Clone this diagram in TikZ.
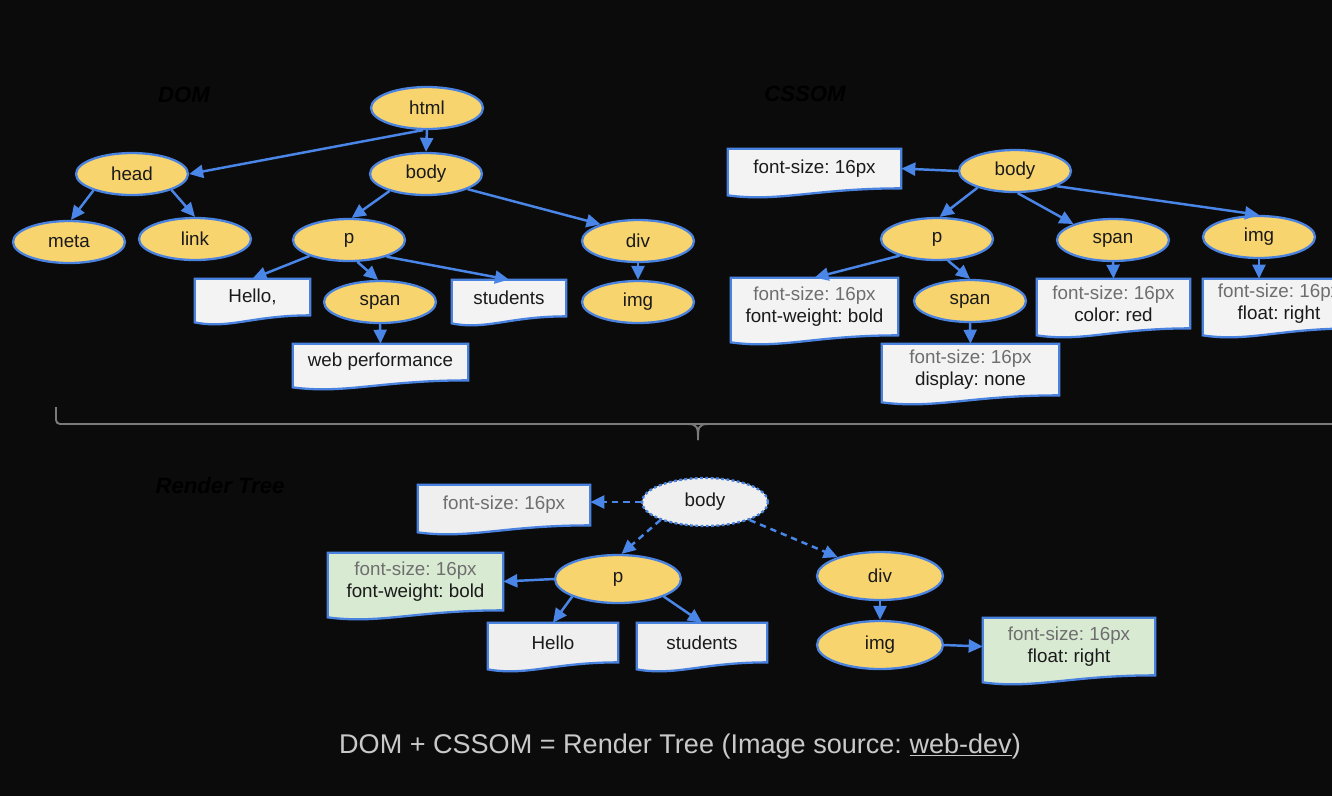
\documentclass[tikz,border=0pt]{standalone}
\usepackage{fontspec}
\setmainfont{Liberation Sans}
\usepackage{tikz}
\usetikzlibrary{shapes.geometric,arrows.meta,calc}

\definecolor{bgblack}{HTML}{0B0B0B}
\definecolor{elemfill}{HTML}{F8D46E}
\definecolor{nodeblue}{HTML}{4A82E0}
\definecolor{lineblue}{HTML}{4A86E8}
\definecolor{docfill}{HTML}{F3F3F3}
\definecolor{rdocfill}{HTML}{EFEFEF}
\definecolor{greenfill}{HTML}{D9EAD3}
\definecolor{greytext}{HTML}{6E6E6E}
\definecolor{textdark}{HTML}{1A1A1A}
\definecolor{bracketgrey}{HTML}{7A7A7A}
\definecolor{captext}{HTML}{C9C9C9}

\pgfdeclarelayer{bg}
\pgfdeclarelayer{docs}
\pgfsetlayers{bg,docs,main}

\frenchspacing
\newcommand{\nodefont}{\fontsize{10.7}{12.6}\selectfont}
\newcommand{\titlefont}{\fontsize{12.6}{14}\selectfont\bfseries\itshape}
\newcommand{\capfont}{\fontsize{15.4}{18}\selectfont}
\newcommand{\faint}[1]{{\color{greytext}#1}}

\tikzset{
	elem/.style={ellipse, draw=nodeblue, line width=1.3pt, fill=elemfill,
		minimum width=2.24cm, minimum height=0.84cm, inner sep=0pt,
		text=textdark, font=\nodefont},
	relem/.style={elem, minimum width=2.52cm, minimum height=0.96cm},
	doc/.style 2 args={rectangle, inner sep=0pt, minimum width=#1,
		minimum height=#2, text=textdark, font=\nodefont, align=center},
	docline/.style={draw=nodeblue, line width=1.3pt},
	arr/.style={draw=lineblue, line width=1.4pt,
		-{Triangle[length=2.8mm,width=2.6mm]}},
	dasharr/.style={arr, dash pattern=on 3.6pt off 2.8pt},
	title/.style={font=\titlefont, text=black},
}

\begin{document}
\begin{tikzpicture}[x=0.02cm, y=-0.02cm]
				\useasboundingbox (0,0) rectangle (1332,796);
				\begin{pgfonlayer}{bg}
					\fill[bgblack] (0,0) rectangle (1332,796);
				\end{pgfonlayer}
				
				% titles
				\node[title] (domtitle) at (184,95) {DOM};
				\node[title] (cssomtitle) at (805,94) {CSSOM};
				\node[title] (rendertitle) at (220,486) {Render Tree};
				
				% DOM
				\node[elem] (html) at (427,108) {html};
				\node[elem] (head) at (132,174) {head};
				\node[elem] (body) at (426,174) {body};
				\node[elem] (meta) at (69,242) {meta};
				\node[elem] (link) at (195,239) {link};
				\node[elem] (p) at (349,240) {p};
				\node[elem] (div) at (638,241) {div};
				\node[elem] (span) at (380,302) {span};
				\node[elem] (img) at (638,302) {img};
				\node[doc={2.3cm}{0.72cm}] (hello) at (252.5,297) {Hello,};
				\node[doc={2.28cm}{0.72cm}] (students) at (509,298) {students};
				\node[doc={3.5cm}{0.72cm}] (webperf) at (380.5,362) {web performance};
				
				% CSSOM
				\node[elem] (cbody) at (1015,171) {body};
				\node[elem] (cp) at (937,239) {p};
				\node[elem] (cspan) at (1113,240) {span};
				\node[elem] (cimg) at (1259,237) {img};
				\node[elem] (cspanb) at (970,301) {span};
				\node[doc={3.46cm}{0.78cm}] (cfs) at (814.5,168.5) {font-size: 16px};
				\node[doc={3.34cm}{1.14cm}] (cpbox) at (814.5,306.5)
					{\faint{font-size: 16px}\\font-weight: bold};
				\node[doc={3.54cm}{1.02cm}] (cdbox) at (970.5,369.5)
					{\faint{font-size: 16px}\\display: none};
				\node[doc={3.06cm}{0.98cm}] (csbox) at (1113.5,303.5)
					{\faint{font-size: 16px}\\color: red};
				\node[doc={3.04cm}{0.98cm}] (cibox) at (1279,303.5)
					{\faint{font-size: 16px}\\float: right};
				
				% render tree
				\node[relem, fill=rdocfill, dash pattern=on 1.6pt off 1.4pt] (rbody) at (705,502) {body};
				\node[relem] (rp) at (618,579) {p};
				\node[relem] (rdiv) at (880,576) {div};
				\node[relem] (rimg) at (880,645) {img};
				\node[doc={3.44cm}{0.8cm}] (rfs) at (504,505) {\faint{font-size: 16px}};
				\node[doc={3.5cm}{1.14cm}] (rpbox) at (415.5,581.5)
					{\faint{font-size: 16px}\\font-weight: bold};
				\node[doc={2.6cm}{0.78cm}] (rhello) at (553,642.5) {Hello};
				\node[doc={2.6cm}{0.78cm}] (rstud) at (702,642.5) {students};
				\node[doc={3.44cm}{1.14cm}] (ribox) at (1069,646.5)
					{\faint{font-size: 16px}\\float: right};
				
				% document shapes behind the text
				\begin{pgfonlayer}{docs}
					\foreach \n/\f in
					{hello/docfill, students/docfill, webperf/docfill,
						cfs/docfill, cpbox/docfill, cdbox/docfill, csbox/docfill, cibox/docfill,
						rfs/rdocfill, rpbox/greenfill, rhello/rdocfill, rstud/rdocfill, ribox/greenfill}{
						\filldraw[docline, fill=\f] (\n.north west) -- (\n.north east) -- (\n.south east)
							.. controls ($(\n.south west)!0.5!(\n.south east)$)
							and ($(\n.south west)!0.3!(\n.south east)+(0,14)$) .. ($(\n.south west)+(0,7)$)
							-- cycle;
					}
				\end{pgfonlayer}
				
				% edges
				\foreach \a/\b in
				{html.260/head.east, html.south/body.north, head.203/meta.85, head.338/link.north,
					body.205/p.83, body.340/div.156, p.202/hello.north, p.291/span.95,
					p.336/students.north, span.south/webperf.north, div.south/img.north,
					cbody.west/cfs.east, cbody.204/cp.83, cbody.277/cspan.158, cbody.340/cimg.north,
					cp.204/cpbox.north, cp.297/cspanb.north, cspanb.south/cdbox.north,
					cspan.south/csbox.north, cimg.south/cimg.south |- cibox.north,
					rp.west/rpbox.east, rp.201/rhello.north, rp.339/rstud.north,
					rdiv.south/rimg.north, rimg.east/ribox.west}{
					\draw[arr] (\a) -- (\b);
				}
				\foreach \a/\b in
				{rbody.west/rbody.west -| rfs.east, rbody.202/rp.82, rbody.338/rdiv.156}{
					\draw[dasharr] (\a) -- (\b);
				}
				
				% brace between the trees
				\draw[bracketgrey, line width=1.1pt, rounded corners=0.08cm] (56,407) -- (56,424) -- (1340,424);
				\draw[bracketgrey, line width=1.1pt] (688,424) .. controls (698,424) and (698,428) .. (698,440);
				\draw[bracketgrey, line width=1.1pt] (708,424) .. controls (698,424) and (698,428) .. (698,440);
				
				% caption
				\node[font=\capfont, text=captext] (caption) at (680,746)
					{DOM + CSSOM = Render Tree (Image source: \underline{web-dev})};
			\end{tikzpicture}
\end{document}
